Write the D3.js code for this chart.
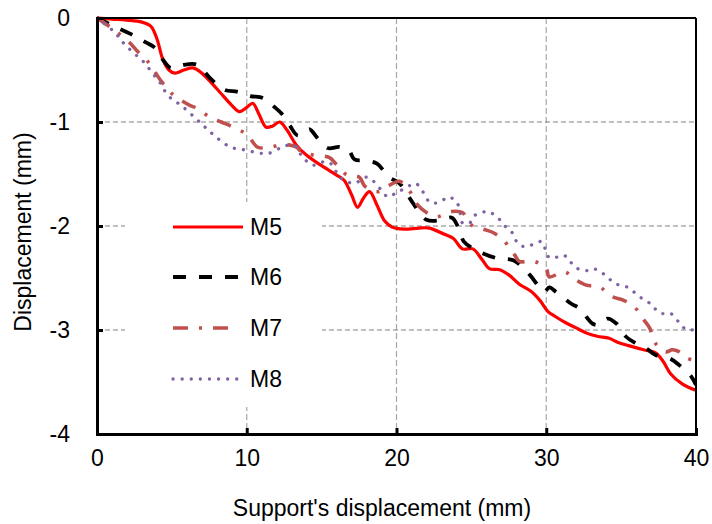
<!DOCTYPE html>
<html><head><meta charset="utf-8">
<script src="https://cdn.jsdelivr.net/npm/d3@7"></script>
<style>body{margin:0;background:#fff}svg{display:block;font-family:Arial,"Liberation Sans",sans-serif}</style>
</head><body><svg id="c" width="712" height="524"></svg>
<script>
const xTicks = [0, 10, 20, 30, 40];
const yTicks = [0, -1, -2, -3, -4];
const seriesNames = ["M5", "M6", "M7", "M8"];
const m5 = [[0,0],[1,-0.01],[2,-0.02],[3,-0.04],[3.6,-0.08],[4.0,-0.2],[4.4,-0.4],[4.8,-0.5],[5.2,-0.53],[5.8,-0.5],[6.4,-0.48],[7,-0.53],[8,-0.68],[9,-0.84],[9.5,-0.9],[10,-0.86],[10.4,-0.82],[10.8,-0.92],[11.3,-1.05],[11.7,-1.04],[12.2,-1.0],[12.7,-1.08],[13.3,-1.22],[14,-1.32],[15,-1.42],[16,-1.51],[16.5,-1.56],[17,-1.7],[17.4,-1.82],[17.8,-1.73],[18.2,-1.67],[18.7,-1.8],[19.2,-1.95],[19.7,-2.01],[20.5,-2.03],[21.5,-2.02],[22.2,-2.02],[23.2,-2.08],[23.8,-2.12],[24.4,-2.22],[25.1,-2.22],[25.7,-2.32],[26.2,-2.41],[26.9,-2.42],[27.5,-2.47],[28.2,-2.56],[29,-2.63],[29.6,-2.72],[30.1,-2.82],[30.6,-2.87],[31.3,-2.93],[32,-2.98],[32.7,-3.03],[33.4,-3.06],[34.2,-3.08],[34.8,-3.12],[35.5,-3.15],[36.5,-3.19],[37.3,-3.22],[37.8,-3.3],[38.3,-3.42],[39.1,-3.52],[40,-3.58]];
const m6 = [[0,0],[1,-0.07],[2.2,-0.15],[3.2,-0.23],[3.9,-0.29],[4.4,-0.4],[4.9,-0.48],[5.3,-0.47],[5.8,-0.45],[6.7,-0.45],[7.5,-0.57],[8.5,-0.69],[9.4,-0.71],[10.2,-0.75],[11.1,-0.77],[11.8,-0.85],[12.4,-0.93],[12.9,-1.04],[13.4,-1.13],[13.9,-1.1],[14.2,-1.07],[14.7,-1.15],[15.4,-1.25],[16.2,-1.24],[16.8,-1.27],[17.2,-1.36],[17.9,-1.37],[18.7,-1.40],[19.5,-1.53],[20.2,-1.59],[21.1,-1.78],[22,-1.94],[23.1,-1.94],[23.7,-1.92],[24.2,-2.04],[24.5,-2.15],[25.3,-2.23],[26.7,-2.31],[27.8,-2.33],[28.9,-2.47],[29.5,-2.58],[29.9,-2.63],[30.2,-2.59],[30.7,-2.64],[31.7,-2.75],[32.2,-2.79],[33.1,-2.94],[33.5,-2.95],[34.1,-2.89],[34.7,-2.94],[35.3,-3.06],[36,-3.13],[36.7,-3.18],[37.3,-3.24],[38.2,-3.27],[38.9,-3.34],[39.7,-3.45],[40,-3.53]];
const m7 = [[0,0],[1,-0.1],[2.2,-0.24],[2.7,-0.32],[3.4,-0.42],[4.3,-0.61],[5.1,-0.74],[6.2,-0.84],[6.7,-0.87],[7.5,-0.95],[8.3,-1.0],[9.1,-1.05],[10,-1.12],[10.7,-1.24],[11.2,-1.25],[11.7,-1.24],[12.2,-1.22],[12.8,-1.22],[13.3,-1.24],[13.7,-1.29],[14.5,-1.32],[15.5,-1.34],[16,-1.41],[16.7,-1.51],[17.5,-1.53],[17.9,-1.62],[18.7,-1.67],[19.5,-1.61],[20.2,-1.57],[20.9,-1.67],[21.3,-1.78],[22,-1.87],[22.7,-1.91],[23.7,-1.86],[24.4,-1.87],[25,-1.99],[26,-2.04],[26.4,-2.06],[27.1,-2.13],[27.9,-2.28],[28.2,-2.34],[29.2,-2.34],[30,-2.41],[30.2,-2.49],[31.2,-2.44],[32,-2.52],[32.7,-2.57],[33.5,-2.58],[34.4,-2.68],[35.1,-2.71],[35.9,-2.78],[36.5,-2.90],[36.9,-2.98],[37.3,-3.13],[38,-3.21],[38.4,-3.19],[38.9,-3.21],[39.4,-3.27],[40,-3.3]];
const m8 = [[0,0],[1.2,-0.14],[1.7,-0.23],[2.4,-0.33],[3.1,-0.42],[3.7,-0.53],[4.3,-0.64],[4.7,-0.74],[5.7,-0.85],[6.7,-0.98],[7.3,-1.06],[8,-1.15],[8.9,-1.24],[9.9,-1.27],[10.9,-1.30],[11.5,-1.30],[12.4,-1.24],[13.1,-1.22],[13.7,-1.33],[14.3,-1.41],[14.7,-1.41],[15.2,-1.38],[15.7,-1.41],[16.2,-1.53],[17.1,-1.59],[17.5,-1.57],[18,-1.53],[18.4,-1.56],[18.7,-1.61],[19.1,-1.67],[19.4,-1.72],[20,-1.68],[20.4,-1.65],[20.9,-1.61],[21.3,-1.59],[21.6,-1.64],[21.9,-1.70],[22.2,-1.77],[22.6,-1.78],[23.1,-1.75],[23.5,-1.72],[24,-1.77],[24.2,-1.83],[24.4,-1.97],[24.9,-1.97],[25.1,-1.91],[25.5,-1.88],[26.1,-1.86],[26.5,-1.89],[26.9,-1.94],[27.3,-2.01],[27.7,-2.06],[27.9,-2.12],[28.2,-2.18],[28.7,-2.20],[29.2,-2.17],[29.7,-2.15],[29.9,-2.21],[30.1,-2.29],[30.5,-2.31],[31,-2.28],[31.4,-2.30],[31.7,-2.36],[32.1,-2.41],[32.7,-2.43],[33.1,-2.41],[33.5,-2.43],[34,-2.48],[34.3,-2.52],[34.7,-2.56],[35.3,-2.58],[35.7,-2.62],[36.1,-2.66],[36.5,-2.71],[37,-2.75],[37.3,-2.80],[37.7,-2.84],[38.3,-2.84],[39,-2.95],[39.4,-3.0],[40,-2.99]];

const svg = d3.select("#c");
const L = 97, T = 18, W = 599, H = 416;
const x = d3.scaleLinear().domain([0, 40]).range([L, L + W]);
const y = d3.scaleLinear().domain([-4, 0]).range([T + H, T]);

const styles = [
  {color:"#ff0000", width:3.2, dash:null, cap:"butt", legLen:70},
  {color:"#000000", width:3.8, dash:"13 13", cap:"butt", legLen:67},
  {color:"#c0504d", width:3.6, dash:"15 11 3 11", cap:"butt", legLen:57},
  {color:"#8064a2", width:3.3, dash:"0.1 9", cap:"round", legLen:65}
];
const data = [m5, m6, m7, m8];

// grid
const g = svg.append("g");
g.selectAll(".vg").data(xTicks.slice(1, -1)).join("line")
  .attr("x1", d => x(d)).attr("x2", d => x(d)).attr("y1", T).attr("y2", T + H)
  .attr("stroke", "#a6a6a6").attr("stroke-width", 1.2).attr("stroke-dasharray", "6 3");
g.selectAll(".hg").data(yTicks.slice(1, -1)).join("line")
  .attr("x1", L).attr("x2", L + W).attr("y1", d => y(d)).attr("y2", d => y(d))
  .attr("stroke", "#808080").attr("stroke-width", 1).attr("stroke-dasharray", "5 3");

// legend background
svg.append("rect").attr("x", 125).attr("y", 202).attr("width", 197).attr("height", 205).attr("fill", "#fff");

// lines
const line = d3.line().x(d => x(d[0])).y(d => y(d[1])).curve(d3.curveCatmullRom.alpha(0.5));
const clip = svg.append("clipPath").attr("id", "pc").append("rect").attr("x", L).attr("y", T - 5).attr("width", W).attr("height", H + 5);
data.forEach((d, i) => {
  const s = styles[i];
  svg.append("path").attr("d", line(d)).attr("fill", "none")
    .attr("stroke", s.color).attr("stroke-width", s.width)
    .attr("stroke-dasharray", s.dash).attr("stroke-linecap", s.cap)
    .attr("stroke-linejoin", "round").attr("clip-path", "url(#pc)");
});

// frame
svg.append("line").attr("x1", L).attr("x2", L + W).attr("y1", T).attr("y2", T).attr("stroke", "#000").attr("stroke-width", 2);
svg.append("line").attr("x1", L + W).attr("x2", L + W).attr("y1", T).attr("y2", T + H).attr("stroke", "#000").attr("stroke-width", 2);

// axes
const xa = svg.append("g").attr("transform", `translate(0,${T + H})`)
  .call(d3.axisBottom(x).tickValues(xTicks).tickSize(-6).tickPadding(16).tickFormat(d3.format("d")));
const ya = svg.append("g").attr("transform", `translate(${L},0)`)
  .call(d3.axisLeft(y).tickValues(yTicks).tickSize(-6).tickPadding(27).tickFormat(d => d === 0 ? "0" : String(d)));
[xa, ya].forEach(a => {
  a.select(".domain").attr("stroke", "#000").attr("stroke-width", 3);
  a.selectAll(".tick line").attr("stroke", "#000").attr("stroke-width", 3);
  a.selectAll(".tick text").attr("font-size", 23).attr("fill", "#000").attr("font-family", "Arial, 'Liberation Sans', sans-serif");
});
ya.selectAll(".tick text").text(d => d === 0 ? "0" : String(d).replace("−", "-"));

// titles
svg.append("text").attr("x", 382).attr("y", 516).attr("text-anchor", "middle")
  .attr("font-size", 23).text("Support's displacement (mm)");
svg.append("text").attr("transform", "translate(31,232) rotate(-90)").attr("text-anchor", "middle")
  .attr("font-size", 23).text("Displacement (mm)");

// legend
const legY = [227, 277, 328, 379];
seriesNames.forEach((n, i) => {
  const s = styles[i];
  svg.append("line").attr("x1", 173).attr("x2", 173 + s.legLen).attr("y1", legY[i]).attr("y2", legY[i])
    .attr("stroke", s.color).attr("stroke-width", s.width)
    .attr("stroke-dasharray", s.dash).attr("stroke-linecap", s.cap);
  svg.append("text").attr("x", 250).attr("y", legY[i] + 8).attr("font-size", 23).text(n);
});
</script></body></html>
